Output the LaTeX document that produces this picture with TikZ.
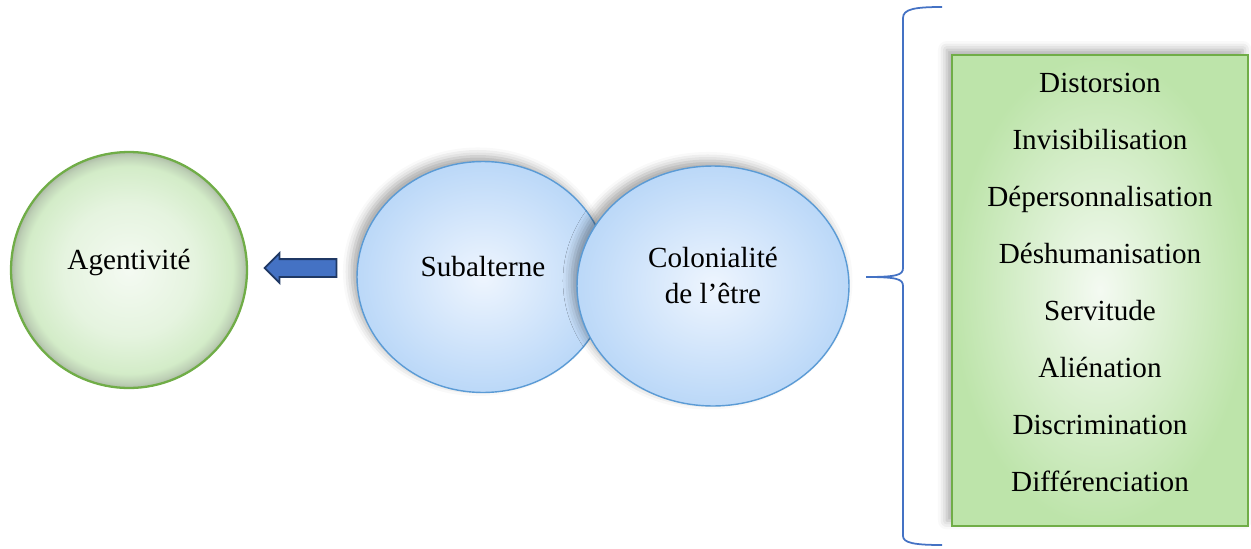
\documentclass[tikz,border=0pt]{standalone}
\usepackage{fontspec}
\setmainfont{Liberation Serif}
\usetikzlibrary{positioning,shapes.geometric,shapes.arrows,shadows.blur}

\definecolor{leafline}{HTML}{70AD47}
\definecolor{leafin}{HTML}{F4FAF2}
\definecolor{leafout}{HTML}{BDE4AA}
\definecolor{leafrim}{HTML}{D3ECC8}
\definecolor{skyline}{HTML}{5B9BD5}
\definecolor{skyin}{HTML}{EEF5FE}
\definecolor{skyout}{HTML}{BBD8F8}
\definecolor{arrowfill}{HTML}{4472C4}
\definecolor{arrowline}{HTML}{1F3864}

\pgfdeclareradialshading{agentshade}{\pgfpoint{0bp}{0bp}}{%
  color(0bp)=(leafin); color(14bp)=(leafrim!45!leafin); color(22bp)=(leafrim);
  color(24bp)=(leafrim!75!gray); color(25bp)=(leafrim!55!gray); color(50bp)=(leafrim!55!gray)}

\begin{document}
\begin{tikzpicture}[%
    x=0.02cm, y=-0.02cm,
    node distance=1.14cm,
    on grid,
    font=\fontsize{16.6}{20}\selectfont,
    bubble/.style={ellipse, draw=skyline, line width=0.8pt, inner sep=0pt,
      inner color=skyin, outer color=skyout,
      blur shadow={shadow xshift=-3pt, shadow yshift=3pt, shadow opacity=35, shadow blur radius=5pt}},
    item/.style={text height=12pt, text depth=3.5pt, inner sep=0pt}
  ]
    \useasboundingbox (0,0) rectangle (1251,548);

    \node[circle, draw=leafline, line width=1.3pt, minimum size=4.72cm, shading=agentshade,
          label={[yshift=4.5pt]center:Agentivité}] (agent) at (129,270) {};

    \node[single arrow, shape border rotate=180, fill=arrowfill, draw=arrowline, line width=1pt,
          inner xsep=0pt, inner ysep=0.16cm, single arrow head extend=0.12cm,
          minimum height=1.44cm, outer sep=0pt] (back) at (305,268) {};

    \node[bubble, minimum width=5.04cm, minimum height=4.62cm,
          label={[yshift=5.7pt]center:Subalterne}] (sub) at (483,277) {};
    \node[bubble, minimum width=5.44cm, minimum height=4.8cm,
          label={[yshift=6pt, align=center]center:Colonialité\\de l’être}] (colo) at (713,286) {};

    % accolade
    \coordinate (tip) at (866,277);
    \draw[arrowfill, line width=1pt] (942,7) .. controls (915,7) and (903,9) .. (903,18) -- (903,268)
      .. controls (903,275) and (897,277) .. (tip)
      .. controls (897,277) and (903,279) .. (903,286) -- (903,536)
      .. controls (903,543) and (915,545) .. (942,545);

    \node[rectangle, draw=leafline, line width=1pt, minimum width=5.92cm, minimum height=9.42cm,
          inner color=leafin, outer color=leafout,
          blur shadow={shadow xshift=-3pt, shadow yshift=3pt, shadow opacity=35, shadow blur radius=5pt}]
          (box) at (1100,290.5) {};

    \node[item] (dist) at (1100,85.5) {Distorsion};
    \node[item, below=of dist] (invis) {Invisibilisation};
    \node[item, below=of invis] (deper) {Dépersonnalisation};
    \node[item, below=of deper] (deshu) {Déshumanisation};
    \node[item, below=of deshu] (serv) {Servitude};
    \node[item, below=of serv] (alien) {Aliénation};
    \node[item, below=of alien] (discr) {Discrimination};
    \node[item, below=of discr] (diff) {Différenciation};
  \end{tikzpicture}
\end{document}
